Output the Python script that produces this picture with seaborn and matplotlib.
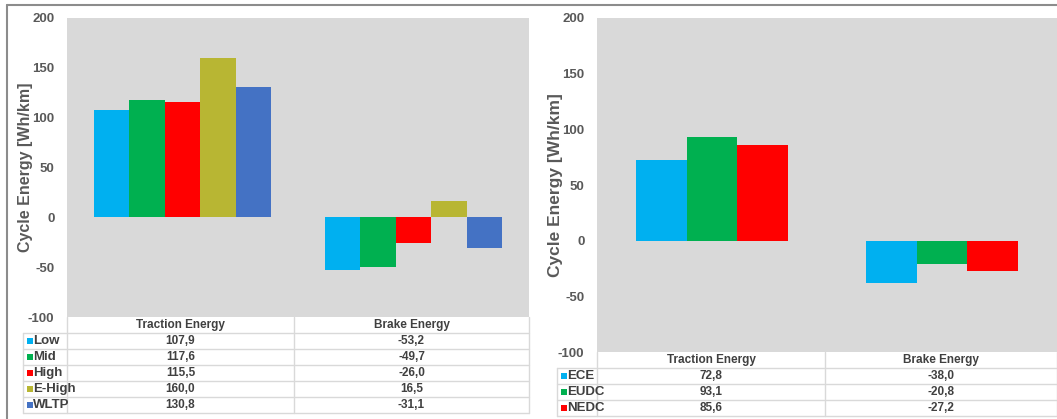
import pandas as pd
import matplotlib.pyplot as plt
import seaborn as sns
from matplotlib.patches import Rectangle

# Chart data
categories = ["Traction Energy", "Brake Energy"]

wltp_cycles = ["Low", "Mid", "High", "E-High", "WLTP"]
wltp_traction = [107.9, 117.6, 115.5, 160.0, 130.8]
wltp_brake = [-53.2, -49.7, -26.0, 16.5, -31.1]
wltp_colors = ["#00B0F0", "#00B050", "#FF0000", "#B8B633", "#4472C4"]

nedc_cycles = ["ECE", "EUDC", "NEDC"]
nedc_traction = [72.8, 93.1, 85.6]
nedc_brake = [-38.0, -20.8, -27.2]
nedc_colors = ["#00B0F0", "#00B050", "#FF0000"]

yticks = [-100, -50, 0, 50, 100, 150, 200]

sns.set_style("white")
plt.rcParams["font.family"] = ["Liberation Sans", "DejaVu Sans"]
plt.rcParams["axes.unicode_minus"] = False
narrow = ["Liberation Sans Narrow", "Liberation Sans", "DejaVu Sans"]

W, H = 1057, 419
fig = plt.figure(figsize=(W / 100, H / 100), dpi=100)


def px_rect(l, t, r, b):
    return [l / W, 1 - b / H, (r - l) / W, (b - t) / H]


def long_df(cycles, traction, brake):
    rows = []
    for c, t, b in zip(cycles, traction, brake):
        rows.append({"Energy": categories[0], "Cycle": c, "Value": t})
        rows.append({"Energy": categories[1], "Cycle": c, "Value": b})
    return pd.DataFrame(rows)


def draw_panel(ax, cycles, traction, brake, colors, width, label_size):
    df = long_df(cycles, traction, brake)
    sns.barplot(data=df, x="Energy", y="Value", hue="Cycle", order=categories,
                hue_order=cycles, palette=colors, width=width, saturation=1,
                linewidth=0, legend=False, ax=ax)
    ax.set_facecolor("#D9D9D9")
    for s in ax.spines.values():
        s.set_visible(False)
    ax.set_xlim(-0.5, 1.5)
    ax.set_ylim(-100, 200)
    ax.set_xticks([])
    ax.set_xlabel("")
    ax.set_yticks(yticks)
    ax.tick_params(axis="y", length=0, pad=9, labelcolor="#595959")
    for lab in ax.get_yticklabels():
        lab.set_fontweight("bold")
        lab.set_family(narrow)
        lab.set_fontsize(9.5)
    ax.set_ylabel("Cycle Energy [Wh/km]", fontsize=label_size, fontweight="bold",
                  color="#595959")
    ax.yaxis.set_label_coords(-0.074, 0.5)


ax1 = fig.add_axes(px_rect(67, 18, 529, 317))
draw_panel(ax1, wltp_cycles, wltp_traction, wltp_brake, wltp_colors, 0.77, 11.5)

ax2 = fig.add_axes(px_rect(597, 18, 1057, 352))
draw_panel(ax2, nedc_cycles, nedc_traction, nedc_brake, nedc_colors, 0.665, 12.5)

# Overlay in pixel coordinates for frame and data tables
ov = fig.add_axes([0, 0, 1, 1], zorder=5)
ov.set_xlim(0, W)
ov.set_ylim(H, 0)
ov.axis("off")
ov.patch.set_alpha(0)

ov.plot([7, W], [5, 5], color="#8C8C8C", lw=1.5)
ov.plot([7, 7], [5, H], color="#8C8C8C", lw=1.5)


def fmt(v):
    return f"{v:.1f}".replace(".", ",")


def draw_table(x0, x1, xd, x2, top, cycles, traction, brake, colors):
    grid = "#D9D9D9"
    rh = 16
    bottom = top + rh * (len(cycles) + 1)
    for i in range(len(cycles) + 1):
        y = top + rh * (i + 1)
        ov.plot([x0, x2], [y, y], color=grid, lw=1)
    ov.plot([x0, x0], [top + rh, bottom], color=grid, lw=1)
    for x in (x1, xd, x2 - 0.5):
        ov.plot([x, x], [top, bottom], color=grid, lw=1)
    hy = top + rh / 2
    tkw = dict(ha="center", va="center", fontsize=8.5, fontweight="bold",
               color="#404040", family=narrow)
    ov.text((x1 + xd) / 2, hy, categories[0], **tkw)
    ov.text((xd + x2) / 2, hy, categories[1], **tkw)
    for i, (c, t, b, col) in enumerate(zip(cycles, traction, brake, colors)):
        y = top + rh * (i + 1) + rh / 2
        ov.add_patch(Rectangle((x0 + 3.5, y - 3), 6, 6, color=col, lw=0))
        ov.text(x0 + 10, y, c, ha="left", va="center", fontsize=9.5,
                fontweight="bold", color="#404040", family=narrow)
        ov.text((x1 + xd) / 2, y, fmt(t), **tkw)
        ov.text((xd + x2) / 2, y, fmt(b), **tkw)


draw_table(23, 67, 294, 529, 317, wltp_cycles, wltp_traction, wltp_brake, wltp_colors)
draw_table(557, 597, 825, W, 352, nedc_cycles, nedc_traction, nedc_brake, nedc_colors)

fig.savefig("out.png", dpi=100)
